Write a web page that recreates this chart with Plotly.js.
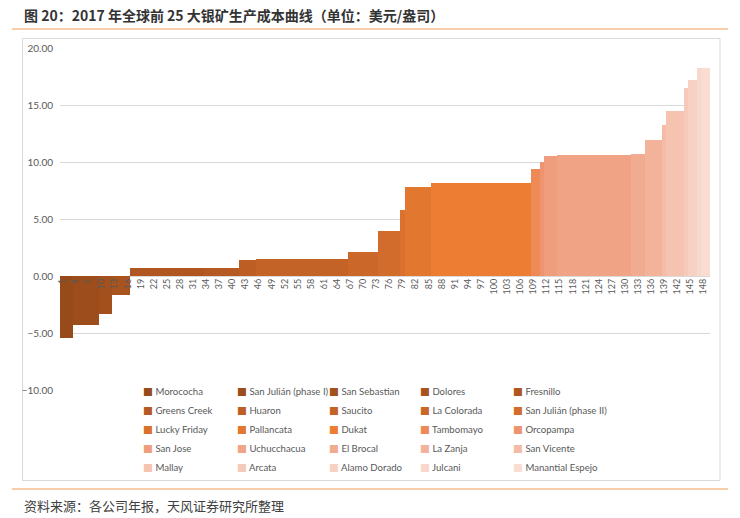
<!DOCTYPE html>
<html>
<head>
<meta charset="utf-8">
<script src="https://cdn.plot.ly/plotly-3.0.1.min.js"></script>
<style>html,body{margin:0;padding:0;background:#fff;}#chart{width:740px;height:518px;}</style>
</head>
<body>
<div id="chart"></div>
<script>
// ---- data ----
var mines = ["Morococha","San Julián (phase I)","San Sebastian","Dolores","Fresnillo",
  "Greens Creek","Huaron","Saucito","La Colorada","San Julián (phase II)",
  "Lucky Friday","Pallancata","Dukat","Tambomayo","Orcopampa",
  "San Jose","Uchucchacua","El Brocal","La Zanja","San Vicente",
  "Mallay","Arcata","Alamo Dorado","Julcani","Manantial Espejo"];
// first and last category (cumulative production position) covered by each mine
var startCat = [1,4,10,13,17,34,42,46,67,74,79,80,86,109,111,112,115,132,135,139,140,144,145,147,148];
var endCat   = [3,9,12,16,33,41,45,66,73,78,79,85,108,110,111,114,131,134,138,139,143,144,146,147,149];
// production cost, USD/oz
var cost = [-5.40,-4.30,-3.37,-1.67,0.68,0.70,1.38,1.48,2.08,3.93,5.80,7.79,8.20,9.40,10.04,
  10.52,10.63,10.72,11.89,13.24,14.50,16.49,17.16,18.25,18.25];
var yTicks = [-10,-5,0,5,10,15,20];

// ---- styles ----
var colors = ["#974A1A","#9D4D1C","#A3501D","#A9531F","#B05721","#B65A23","#BD5F25","#C46327",
  "#CB6729","#D26C2C","#DA712E","#E27730","#EC7D33","#EE8A55","#EF9470","#EF9D7C","#F0A385",
  "#F1AB90","#F3B39B","#F4BBA6","#F5C3B0","#F6CABA","#F7D1C3","#F8D8CC","#F9DDD3"];

var W = 740, H = 518, mL = 60, mR = 30, mT = 48, mB = 128;
var pw = W - mL - mR, ph = H - mT - mB;
function px(x){ return (x - mL) / pw; }
function py(y){ return (H - mB - y) / ph; }

var traces = [];
var legendKeys = ["legend","legend2","legend3","legend4","legend5"];
for (var i = 0; i < mines.length; i++) {
  traces.push({
    type: "bar",
    x: [(startCat[i] + endCat[i]) / 2],
    y: [cost[i]],
    width: [endCat[i] - startCat[i] + 1],
    name: mines[i],
    marker: {color: colors[i], line: {width: 0}},
    showlegend: false,
    hoverinfo: "name+y"
  });
}
for (var j = 0; j < mines.length; j++) {
  traces.push({
    type: "scatter", mode: "markers",
    x: [null], y: [null],
    name: '<span style="color:' + colors[j] + ';font-family:DejaVu Sans;font-size:10.5px">■</span> ' + mines[j],
    marker: {symbol: "square", size: 1, color: "rgba(0,0,0,0)"},
    legend: legendKeys[j % 5],
    showlegend: true,
    hoverinfo: "skip"
  });
}

var legFont = {family: "Lato, 'Liberation Sans', sans-serif", size: 9.6, color: "#595959"};
var legX = [103, 197, 289, 380, 473];
var layout = {
  width: W, height: H,
  margin: {l: mL, r: mR, t: mT, b: mB, pad: 0},
  paper_bgcolor: "#fff", plot_bgcolor: "#fff",
  barmode: "overlay", bargap: 0,
  font: {family: "Lato, 'Liberation Sans', sans-serif", color: "#595959"},
  xaxis: {
    type: "linear", range: [0.5, 149.5],
    tickmode: "linear", tick0: 1, dtick: 3,
    tickangle: -90, showgrid: false, zeroline: false, showline: false,
    ticks: "", anchor: "free", position: 10/30,
    tickfont: {size: 9, color: "#595959"}
  },
  yaxis: {
    range: [-10, 20], tickvals: yTicks, tickformat: ".2f",
    showgrid: true, gridcolor: "#d9d9d9", gridwidth: 1,
    zeroline: false, showline: false, ticks: "", ticklabelstandoff: 6,
    tickfont: {size: 10, color: "#595959"}
  },
  annotations: [
    {text: "<b>图 20：2017 年全球前 25 大银矿生产成本曲线（单位：美元/盎司）</b>",
     xref: "paper", yref: "paper", x: px(22), y: py(15), xanchor: "left", yanchor: "middle",
     showarrow: false, font: {family: "'Noto Sans CJK SC', sans-serif", size: 14, color: "#333333"}},
    {text: "资料来源：各公司年报，天风证券研究所整理",
     xref: "paper", yref: "paper", x: px(22), y: py(505), xanchor: "left", yanchor: "middle",
     showarrow: false, font: {family: "'Noto Sans CJK SC', sans-serif", size: 13, color: "#404040"}}
  ],
  shapes: [
    {type: "line", xref: "paper", yref: "paper", x0: px(12), x1: px(728), y0: py(29), y1: py(29),
     line: {color: "#EE9A55", width: 1}},
    {type: "line", xref: "paper", yref: "paper", x0: px(12), x1: px(728), y0: py(489), y1: py(489),
     line: {color: "#EE9A55", width: 1}},
    {type: "rect", xref: "paper", yref: "paper", x0: px(22.5), x1: px(720), y0: py(480.5), y1: py(38.5),
     line: {color: "#d9d9d9", width: 1}, fillcolor: "rgba(0,0,0,0)", layer: "below"}
  ]
};
for (var k = 0; k < 5; k++) {
  layout[legendKeys[k]] = {
    x: px(legX[k]), y: py(377), xanchor: "left", yanchor: "top",
    orientation: "v", bgcolor: "rgba(0,0,0,0)", borderwidth: 0,
    font: legFont, tracegroupgap: 0, itemwidth: 30
  };
}
Plotly.newPlot("chart", traces, layout, {displayModeBar: false, staticPlot: true});
</script>
</body>
</html>
